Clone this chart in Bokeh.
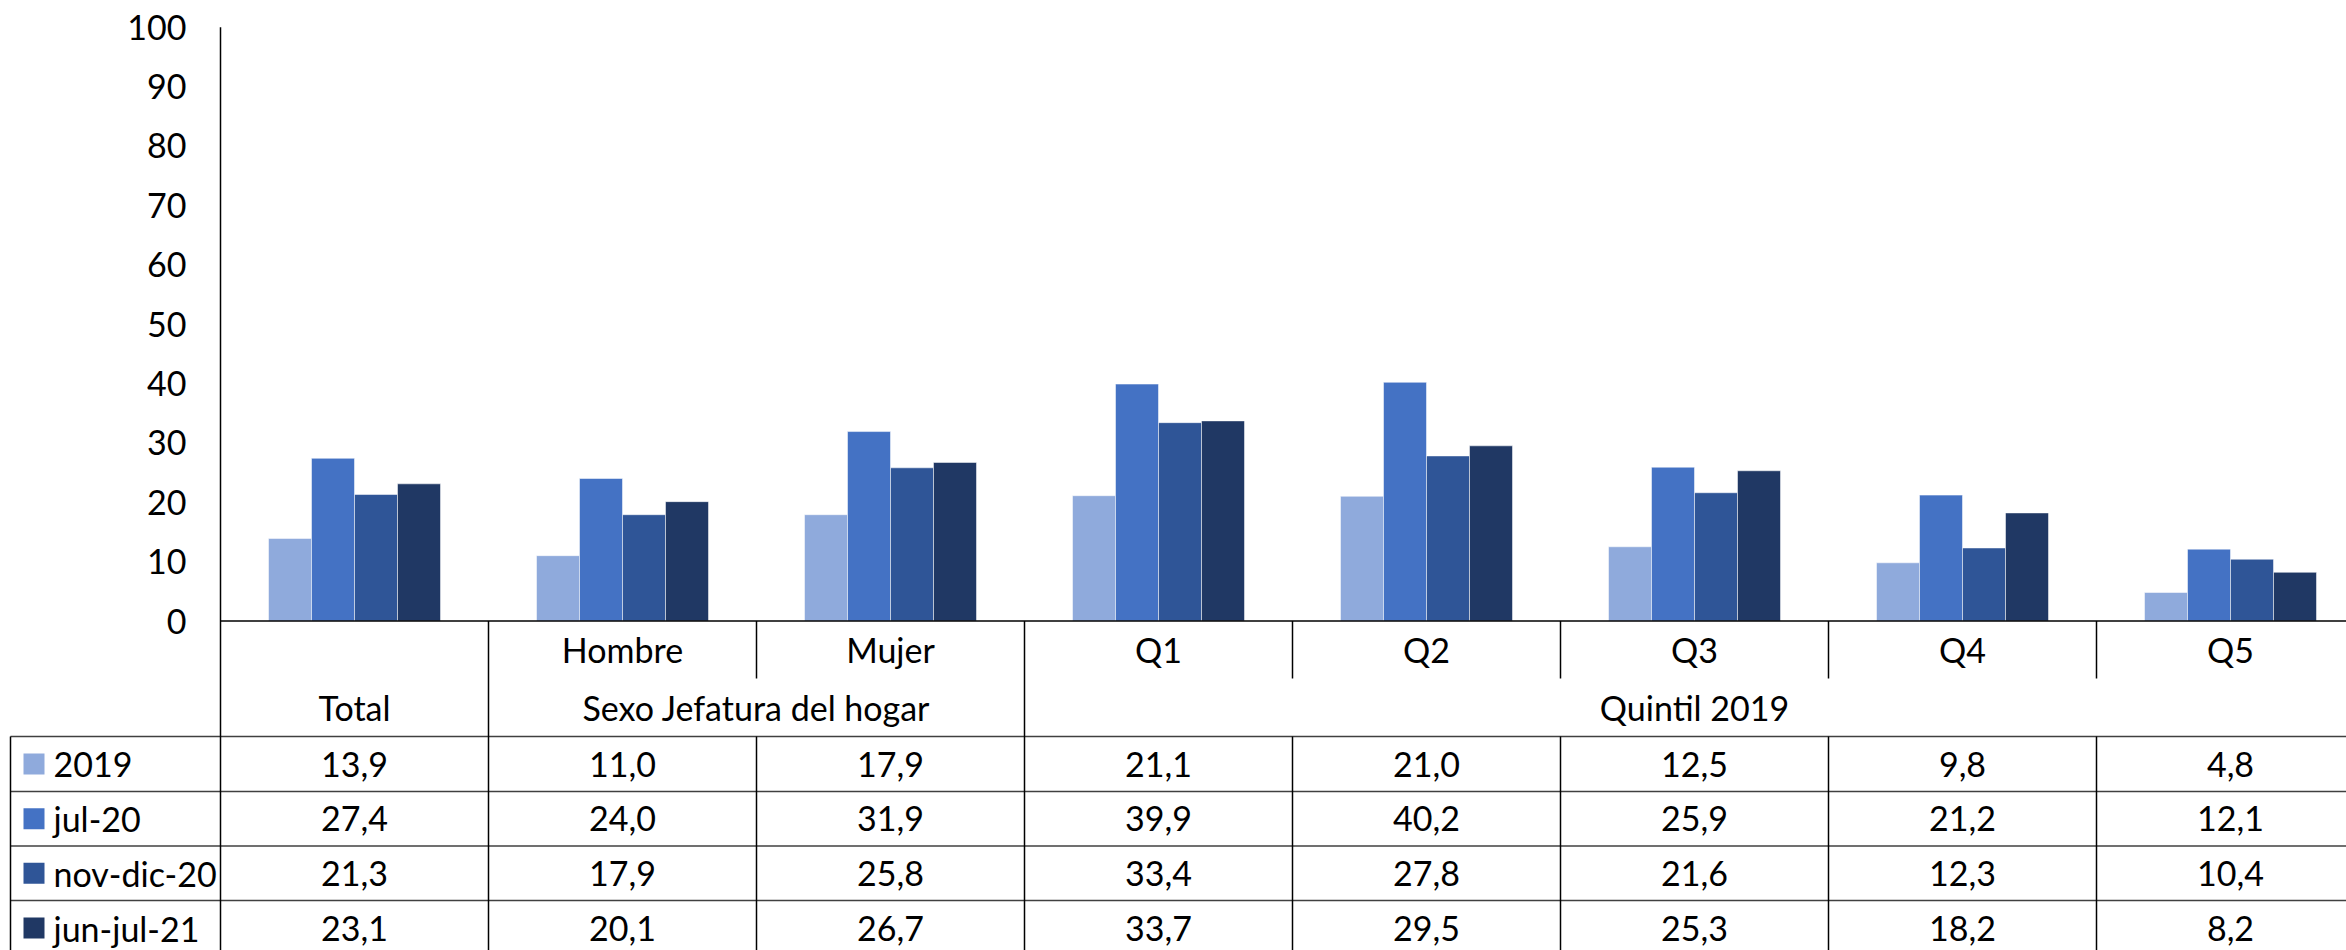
import numpy as np
from bokeh.plotting import figure
from bokeh.models import ColumnDataSource
from bokeh.core.properties import value
from bokeh.embed import file_html
from bokeh.resources import INLINE

# ---------------- data ----------------
cat_labels = ["", "Hombre", "Mujer", "Q1", "Q2", "Q3", "Q4", "Q5"]
groups = ["Total", "Sexo Jefatura del hogar", "Quintil 2019"]
group_spans = [(0, 1), (1, 3), (3, 8)]
series_names = ["2019", "jul-20", "nov-dic-20", "jun-jul-21"]
s2019 = [13.9, 11.0, 17.9, 21.1, 21.0, 12.5, 9.8, 4.8]
jul20 = [27.4, 24.0, 31.9, 39.9, 40.2, 25.9, 21.2, 12.1]
novdic20 = [21.3, 17.9, 25.8, 33.4, 27.8, 21.6, 12.3, 10.4]
junjul21 = [23.1, 20.1, 26.7, 33.7, 29.5, 25.3, 18.2, 8.2]
y_ticks = [0, 10, 20, 30, 40, 50, 60, 70, 80, 90, 100]
colors = ["#8FAADC", "#4472C4", "#2F5597", "#203864"]

series = [s2019, jul20, novdic20, junjul21]

# ---------------- layout (page pixels) ----------------
W, H = 2346, 950
OX, OY = 0, 0
AX_X = 220               # y-axis line x (page px)
CAT_W = 268              # category width in px
Y0, Y100 = 620.5, 26.7   # page y of value 0 and 100
PPU = (Y0 - Y100) / 100.0
FONT = value("Lato")
FS = "34px"


def px2x(sx):
    return (sx - AX_X) / CAT_W


def px2y(sy):
    return (Y0 - sy) / PPU


p = figure(width=W, height=H, output_backend="svg", toolbar_location=None,
           x_range=(px2x(OX), px2x(OX + W)), y_range=(px2y(OY + H), px2y(OY)),
           x_axis_location=None, y_axis_location=None, min_border=0,
           outline_line_color=None, background_fill_color="white",
           border_fill_color="white")
p.xgrid.visible = False
p.ygrid.visible = False

# ---------------- bars ----------------
n = len(cat_labels)
bw = 43.0 / CAT_W
centers = np.arange(n) + 0.5
for k, (name, vals, col) in enumerate(zip(series_names, series, colors)):
    xs = centers + (k - 1.5) * bw
    src = ColumnDataSource(dict(x=xs, top=vals))
    p.vbar(x="x", top="top", bottom=0, width=bw, source=src, fill_color=col,
           line_color="white", line_alpha=0.5, line_width=1)

# ---------------- axes lines ----------------
xr_end = px2x(OX + W + 40)
p.segment(x0=[0], y0=[0], x1=[0], y1=[100], line_color="black", line_width=1.5)

# y tick labels
p.text(x=[px2x(186)] * len(y_ticks), y=y_ticks, text=[str(t) for t in y_ticks],
       text_font=FONT, text_font_size=FS, text_align="right",
       text_baseline="middle", text_color="black")

# ---------------- table ----------------
rowA = (620.5, 678)
rowB = (678, 736)
data_rows = [736, 791, 845.5, 900, 955]
LEFT = 10
BOTTOM = 960

hline_col = "#404040"
# x axis / top table line
p.segment(x0=[0], y0=[0], x1=[xr_end], y1=[0], line_color="black", line_width=1.5)
# horizontal lines of the data rows
hy = [px2y(v) for v in data_rows[:-1]]
p.segment(x0=[px2x(LEFT)] * len(hy), y0=hy, x1=[xr_end] * len(hy), y1=hy,
          line_color=hline_col, line_width=1.5)

# vertical lines
group_edges = sorted(set([a for a, b in group_spans] + [b for a, b in group_spans]))
inner = [i for i in range(n + 1) if i not in group_edges]
vx0, vy0, vx1, vy1 = [], [], [], []
for g in group_edges:
    vx0.append(g); vx1.append(g); vy0.append(0); vy1.append(px2y(BOTTOM))
for i in inner:
    vx0 += [i, i]; vx1 += [i, i]
    vy0 += [0, px2y(rowB[1])]; vy1 += [px2y(rowA[1]), px2y(BOTTOM)]
vx0.append(px2x(LEFT)); vx1.append(px2x(LEFT))
vy0.append(px2y(data_rows[0])); vy1.append(px2y(BOTTOM))
p.segment(x0=vx0, y0=vy0, x1=vx1, y1=vy1, line_color="black", line_width=1.5)

# category labels (row A)
p.text(x=centers, y=[px2y(sum(rowA) / 2)] * n, text=cat_labels,
       text_font=FONT, text_font_size=FS, text_align="center",
       text_baseline="middle", text_color="black")
# group labels (row B)
gx = [(a + b) / 2 for a, b in group_spans]
p.text(x=gx, y=[px2y(sum(rowB) / 2)] * len(groups), text=groups,
       text_font=FONT, text_font_size=FS, text_align="center",
       text_baseline="middle", text_color="black")

# data rows
for k, (name, vals, col) in enumerate(zip(series_names, series, colors)):
    yc = px2y((data_rows[k] + data_rows[k + 1]) / 2)
    p.rect(x=[px2x(33.5)], y=[yc], width=21, height=21, width_units="screen",
           height_units="screen", fill_color=col, line_color=None)
    p.text(x=[px2x(53)], y=[yc], text=[name], text_font=FONT, text_font_size=FS,
           text_align="left", text_baseline="middle", text_color="black")
    p.text(x=centers, y=[yc] * n, text=[f"{v:.1f}".replace(".", ",") for v in vals],
           text_font=FONT, text_font_size=FS, text_align="center",
           text_baseline="middle", text_color="black")

open("out.html", "w").write(file_html(p, INLINE))
